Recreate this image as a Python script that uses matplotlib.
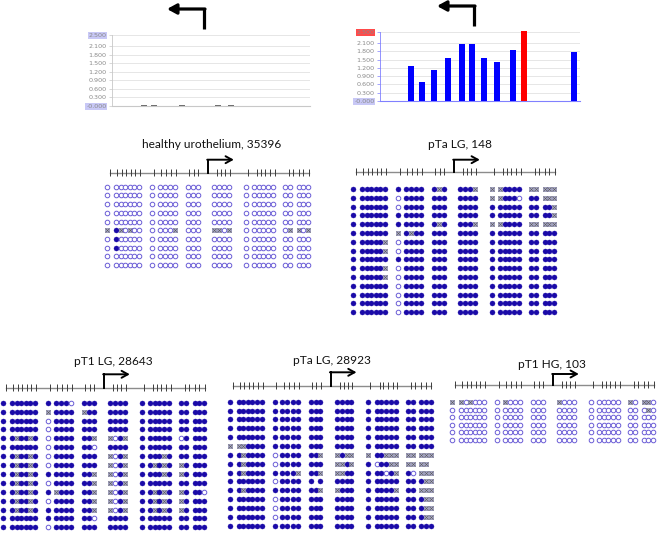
import numpy as np
import matplotlib
matplotlib.use('Agg')
import matplotlib.pyplot as plt

# ---------------- data ----------------
# relative x position (px) of each CpG dot column and genomic tick marks
cpg_offsets = [0, 8.7, 13.3, 18, 22.4, 27, 31.7,
               45, 52.3, 57.3, 62.7, 67.7,
               81, 85.7, 90.3,
               106.7, 111.7, 116.7, 121.3,
               138.3, 146.7, 151.3, 156, 160.7, 165.7,
               178, 183, 191.3, 196, 201]
tick_offsets = [2.7, 10, 14.2, 18.7, 23.2, 27.7, 32.7,
                46.4, 54, 58.7, 64, 68.7,
                82, 86.4, 90.7,
                109.7, 114, 118, 122.4,
                140.4, 150, 153.4, 158, 163, 167.4,
                181.4, 185.4, 191.4, 196, 201.4]
tss_offset = 100.5

# 1 = methylated, 0 = unmethylated, x = not determined, - = no data
healthy_35396 = [
    "0000000 00000 000 0000 000000 00000",
    "0000000 00000 000 0000 000000 00000",
    "0000000 00000 000 0000 000000 00000",
    "0000000 00000 000 0000 000000 00000",
    "0000000 00000 000 0000 000000 00000",
    "x1x0x00 0000x 000 xx0x 000000 0xx0x",
    "0100000 00000 000 0000 000000 00000",
    "0100000 00000 000 0000 000000 00000",
    "0000000 00000 000 0000 000000 00000",
    "0000000 00000 000 0000 000000 00000",
]
pTaLG_148 = [
    "1111111 11111 1x1 111x xx1111 xxxxx",
    "1111111 01111 111 1111 xx1110 11xxx",
    "1111111 01111 111 1111 111111 1111x",
    "1111111 11111 111 1111 111111 1111x",
    "1111111 11111 1x1 111x xx1111 xxxxx",
    "1111111 x1x11 111 1111 111111 11111",
    "111111x 01111 111 1111 111111 11111",
    "111111x 01111 111 1111 111111 11111",
    "1111111 11111 111 1111 111111 11111",
    "111111x 01111 111 1111 111111 11111",
    "111111x 01111 111 1111 111111 11111",
    "1111111 01111 111 1111 111111 11111",
    "1111111 01111 111 1111 111111 11111",
    "1111111 01111 111 1111 111111 11111",
    "1111111 01111 111 1111 111111 11111",
]
pT1LG_28643 = [
    "1111111 11110 111 1111 111111 11111",
    "1111111 x1111 x11 1111 111111 11111",
    "1111111 01111 111 1111 111111 11111",
    "1111111 01111 111 1111 111111 11111",
    "11x11x1 01111 11x x01x 111111 01111",
    "1111111 01111 110 1111 111111 11111",
    "11x11x1 01111 111 x01x 1111x1 11111",
    "11x11x1 01111 111 x01x 11x1x1 x1111",
    "11x11x1 11111 11x x01x 1111x1 x1111",
    "11x11x1 01111 11x x01x 111111 11111",
    "11x11x1 1x111 11x x01x 11x1x1 x1110",
    "11x11x1 01111 11x x01x 11x1x1 x1111",
    "11x11x1 11111 11x x01x 11x1x1 x1111",
    "1111111 11111 110 1111 111111 11111",
    "1111111 01111 111 1111 111111 11111",
]
pTaLG_28923 = [
    "1111111 11111 111 1111 111111 11111",
    "1111111 11111 111 1111 111111 11111",
    "1111111 11111 111 1111 111111 11111",
    "1111111 11111 111 1111 111111 11111",
    "1111111 11111 111 1111 111111 11111",
    "xxx1111 11111 111 1111 111111 11111",
    "11x1111 01111 11x x1xx x11xxx xxxxx",
    "11x1111 01111 111 xx1x 1101x xxxxx".replace("1101x", "1011x"),
    "11x1111 1111x 11x xx11 1110x1 10xxx".replace("1110x1", "11101x"),
    "1111111 01111 1-1 1111 111111 111xx",
    "11x1111 11111 11x x111 11111x 11xxx",
    "1111111 01111 111 1111 111111 111xx",
    "1111111 01111 111 1111 111111 111xx",
    "1111111 01111 111 1111 111111 111xx",
    "1111111 11111 111 1111 111111 11111",
]
pT1HG_103 = [
    "xx0x000 0x000 000 x000 000000 x0xx0",
    "0000000 00000 000 0000 000000 000x0",
    "0000000 00000 000 0000 000000 00000",
    "0000000 00000 000 0000 000000 00000",
    "0000000 00000 000 0000 000000 00000",
    "0000000 00000 000 0000 000000 00000",
]
panel_titles = ["healthy urothelium, 35396", "pTa LG, 148", "pT1 LG, 28643",
                "pTa LG, 28923", "pT1 HG, 103"]

bar_ticks = [0, 0.3, 0.6, 0.9, 1.2, 1.5, 1.8, 2.1, 2.5]
bar_tick_labels = ['-0.000', '0.300', '0.600', '0.900', '1.200', '1.500',
                   '1.800', '2.100', '2.500']
left_bar_pos = [32, 42, 70, 106, 119]
left_bar_vals = [0.02, 0.02, 0.02, 0.02, 0.02]
right_bar_pos = [31, 42, 54, 68, 82, 92, 104, 117, 133, 144, 194]
right_bar_vals = [1.27, 0.69, 1.12, 1.57, 2.06, 2.06, 1.57, 1.42, 1.83, 2.55, 1.78]
right_bar_colors = ['#0000ff'] * 9 + ['#ff0000'] + ['#0000ff']

# ---------------- figure ----------------
W, H = 660, 535
fig = plt.figure(figsize=(W / 100, H / 100), dpi=100)
ax = fig.add_axes([0, 0, 1, 1])
ax.set_xlim(0, W)
ax.set_ylim(H, 0)
ax.axis('off')

FILL = '#1a0aa8'
OPEN = '#6a5cd6'


def fig_axes(l, t, w, h):
    return fig.add_axes([l / W, 1 - (t + h) / H, w / W, h / H])


def bar_chart(rect, pos, vals, colors, spine_col, top_hl, arrow_x, arrow_y0, arrow_y1, arrow_tip):
    bax = fig_axes(*rect)
    bax.bar(pos, vals, width=6, color=colors, clip_on=False, zorder=3)
    bax.set_xlim(0, rect[2])
    bax.set_ylim(0, 2.5)
    bax.set_yticks(bar_ticks)
    bax.set_yticklabels(bar_tick_labels, fontsize=4.6, color='#8a8a8a')
    bax.set_xticks([])
    bax.tick_params(axis='y', length=2, width=0.5, color=spine_col, pad=2)
    bax.grid(axis='y', color='#e2e2e2', lw=0.6, zorder=0)
    for s in ['top', 'right']:
        bax.spines[s].set_visible(False)
    bax.spines['left'].set_color(spine_col)
    bax.spines['bottom'].set_color(spine_col)
    bax.spines['left'].set_linewidth(0.6)
    bax.spines['bottom'].set_linewidth(0.8)
    labs = bax.get_yticklabels()
    labs[-1].set_bbox(dict(facecolor=top_hl, edgecolor='none', pad=0.6))
    labs[0].set_bbox(dict(facecolor='#c8c8f6', edgecolor='none', pad=0.6))
    # promoter arrow above chart
    ax.plot([arrow_x, arrow_x], [arrow_y0, arrow_y1], color='black', lw=2.3,
            solid_capstyle='butt')
    ax.annotate('', xy=(arrow_tip, arrow_y1), xytext=(arrow_x + 1, arrow_y1),
                arrowprops=dict(arrowstyle='-|>,head_length=0.55,head_width=0.3',
                                color='black', lw=2.3, shrinkA=0, shrinkB=0))


bar_chart((112, 35, 198, 71), left_bar_pos, left_bar_vals, ['#707070'] * 5,
          '#c8c8c8', '#c8c8f6', 204, 29, 9, 167)
bar_chart((380, 32, 200, 69), right_bar_pos, right_bar_vals, right_bar_colors,
          '#8080ff', '#ff4a4a', 474, 26, 6, 437)


def draw_panel(rows, title, x0, line_y, row0, sp, tx, ty, arrow_h):
    xs = x0 + np.array(cpg_offsets)
    tk = x0 + np.array(tick_offsets)
    ax.plot([tk[0], tk[-1]], [line_y, line_y], color='#8c8c8c', lw=1.0, zorder=1)
    ax.vlines(tk, line_y - 3.8, line_y + 3.4, color='#3c3c3c', lw=0.7, zorder=2)
    # TSS arrow
    xt = x0 + tss_offset
    ax.plot([xt, xt], [line_y, line_y - arrow_h], color='black', lw=1.4, zorder=3)
    ax.annotate('', xy=(xt + 26, line_y - arrow_h), xytext=(xt - 0.6, line_y - arrow_h),
                arrowprops=dict(arrowstyle='->,head_length=0.45,head_width=0.25',
                                color='black', lw=1.4, shrinkA=0, shrinkB=0))
    ax.text(tx, ty, title, ha='center', va='center', fontsize=8.6,
            family='Lato', color='#111111')
    for r, s in enumerate(rows):
        states = s.replace(' ', '')
        y = row0 + r * sp
        for c, st in enumerate(states):
            if st == '1':
                ax.plot(xs[c], y, 'o', ms=3.6, mfc=FILL, mec=FILL, mew=0.3)
            elif st == '0':
                ax.plot(xs[c], y, 'o', ms=3.3, mfc='white', mec=OPEN, mew=0.7)
            elif st == 'x':
                ax.plot(xs[c], y, 's', ms=3.5, mfc='#b8b8de', mec='#8a8aae', mew=0.5)
                ax.plot(xs[c], y, 'x', ms=2.8, mec='#5a5a5a', mew=0.5)


draw_panel(healthy_35396, panel_titles[0], 107.3, 172.7, 186.7, 8.7, 211.7, 145, 13)
draw_panel(pTaLG_148, panel_titles[1], 353.3, 171.7, 189.0, 8.8, 460, 145, 12)
draw_panel(pT1LG_28643, panel_titles[2], 3.3, 387.7, 402.7, 8.9, 113.3, 361.7, 13.4)
draw_panel(pTaLG_28923, panel_titles[3], 230, 386, 401.7, 8.86, 332.3, 360, 13.7)
draw_panel(pT1HG_103, panel_titles[4], 452.3, 385, 402.3, 7.5, 551.7, 365, 11)

fig.savefig('out.png', dpi=100)
